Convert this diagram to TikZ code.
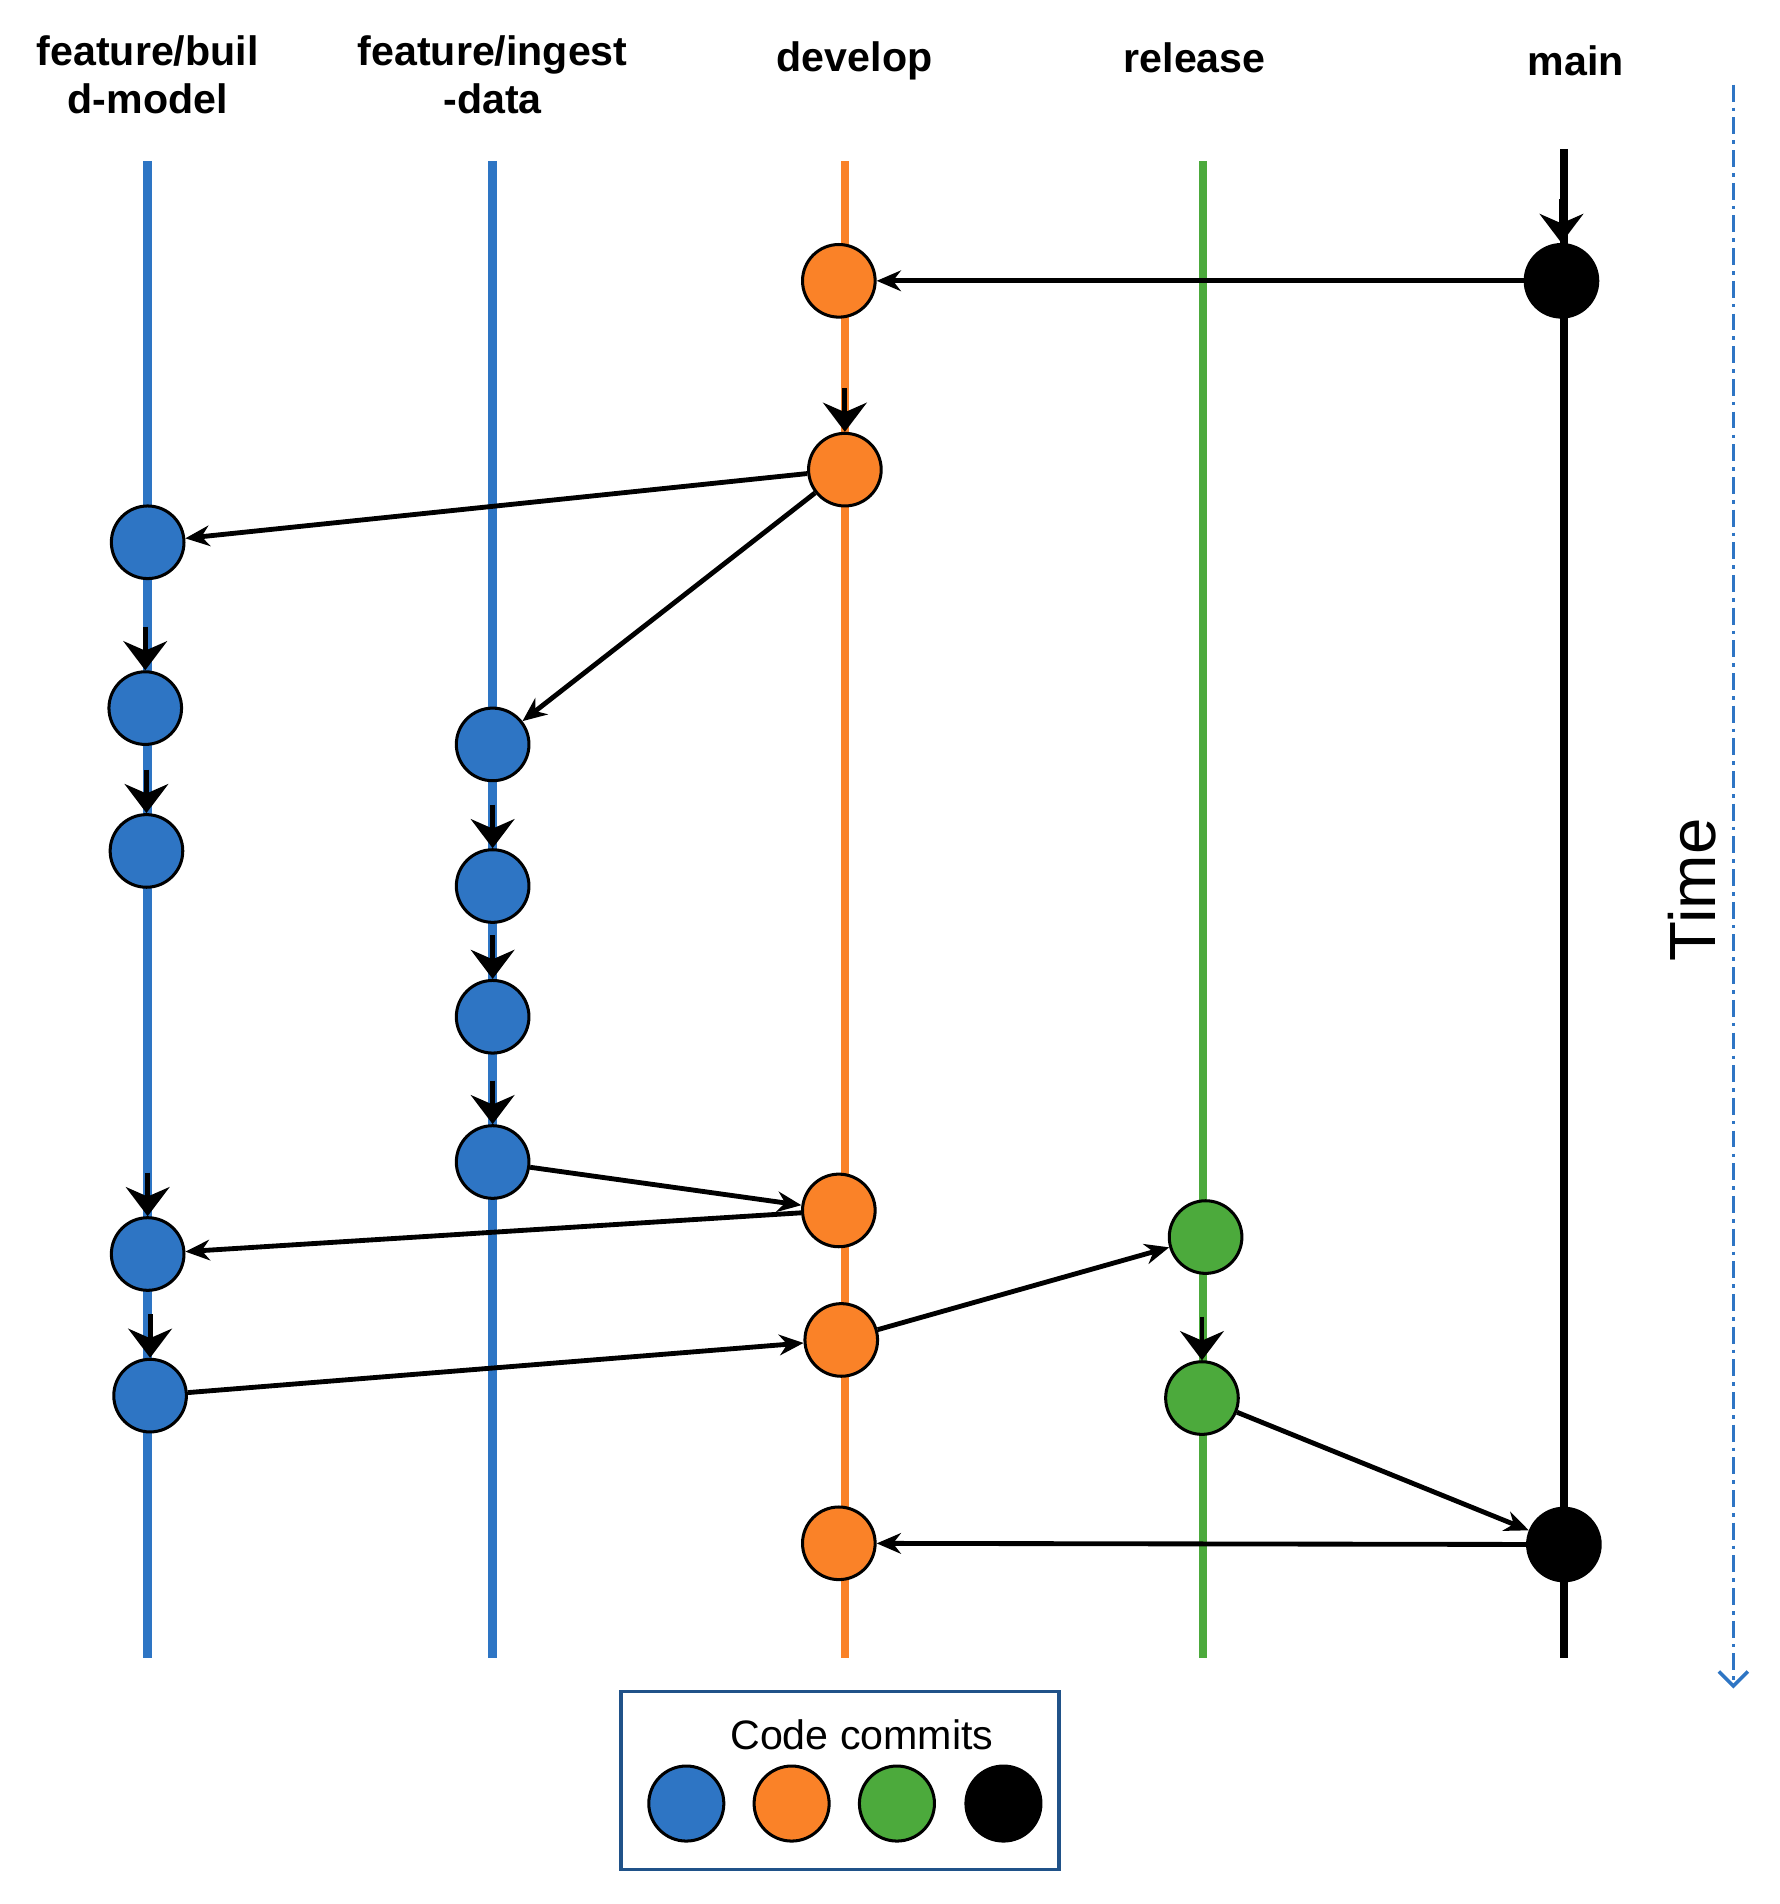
\documentclass[tikz,border=0pt]{standalone}
\usepackage{fontspec}
\setmainfont{Liberation Sans}
\usetikzlibrary{arrows.meta}
\definecolor{fblue}{RGB}{46,117,196}
\definecolor{dorange}{RGB}{250,130,40}
\definecolor{rgreen}{RGB}{76,170,60}
\tikzset{
  lane/.style={line width=7pt},
  commit/.style={circle,draw=black,line width=2.5pt,minimum size=60pt,inner sep=0pt},
  merge/.style={-{Stealth[length=20pt,width=17pt]},line width=4pt},
  next commit/.style={-{Stealth[length=24pt,width=36pt]},line width=4pt},
  head/.style={font=\bfseries\fontsize{34}{40}\selectfont,align=center}
}
\begin{document}
\begin{tikzpicture}[x=1pt,y=-1pt]
  \useasboundingbox (0,0) rectangle (1470,1573);
  % lanes
  \foreach \x/\c in {122/fblue,407/fblue,698/dorange,994/rgreen}
    \draw[lane,\c] (\x,133) -- (\x,1370);
  \draw[lane,black] (1292,123) -- (1292,1370);
  % headers
  \node[head] (hb) at (122,62) {feature/buil\\d-model};
  \node[head] (hi) at (407,62) {feature/ingest\\-data};
  \node[head] (hd) at (706,50) {develop};
  \node[head] (hr) at (987,48) {release};
  \node[head] (hm) at (1302,50) {main};
  % commits
  \foreach \n/\x/\y in {d1/693/232,d2/698/388,d3/693/1000,d4/695/1107,d5/693/1275}
    \node[commit,fill=dorange] (\n) at (\x,\y) {};
  \foreach \n/\x/\y in {b1/122/448,b2/120/585,b3/121/703,b4/122/1036,b5/124/1153,
                        i1/407/615,i2/407/732,i3/407/840,i4/407/960}
    \node[commit,fill=fblue] (\n) at (\x,\y) {};
  \foreach \n/\x/\y in {r1/996/1022,r2/993/1155}
    \node[commit,fill=rgreen] (\n) at (\x,\y) {};
  \foreach \n/\x/\y in {m1/1290/232,m2/1292/1276}
    \node[commit,fill=black] (\n) at (\x,\y) {};
  % steps on a lane
  \foreach \n in {m1,d2,b2,b3,b4,b5,i2,i3,i4,r2}
    \draw[next commit] ([yshift=36pt]\n.north) -- (\n.north);
  % merges
  \draw[merge] (m1) -- (d1);
  \draw[merge] (d2) -- (b1);
  \draw[merge] (d2) -- (i1);
  \draw[merge] (i4) -- (d3);
  \draw[merge] (d3) -- (b4);
  \draw[merge] (b5) -- (d4);
  \draw[merge] (d4) -- (r1);
  \draw[merge] (r2) -- (m2);
  \draw[merge] (m2) -- (d5);
  % time axis
  \coordinate (t0) at (1432,70);
  \coordinate (t1) at (1432,1395);
  \draw[fblue,line width=3pt,dash pattern=on 14pt off 5pt on 3pt off 5pt,-{Straight Barb[length=12pt,width=24pt]}] (t0) -- (t1);
  \node[rotate=90,font=\fontsize{54}{60}\selectfont] (time) at (1398,735) {Time};
  % legend
  \node[draw=fblue!70!black,line width=3pt,minimum width=362pt,minimum height=147pt] (leg) at (694,1471) {};
  \node[font=\fontsize{34}{40}\selectfont] (legt) at (712,1433) {Code commits};
  \foreach \n/\x/\c in {l1/567/fblue,l2/654/dorange,l3/741/rgreen,l4/829/black}
    \node[commit,minimum size=62pt,fill=\c] (\n) at (\x,1490) {};
\end{tikzpicture}
\end{document}
